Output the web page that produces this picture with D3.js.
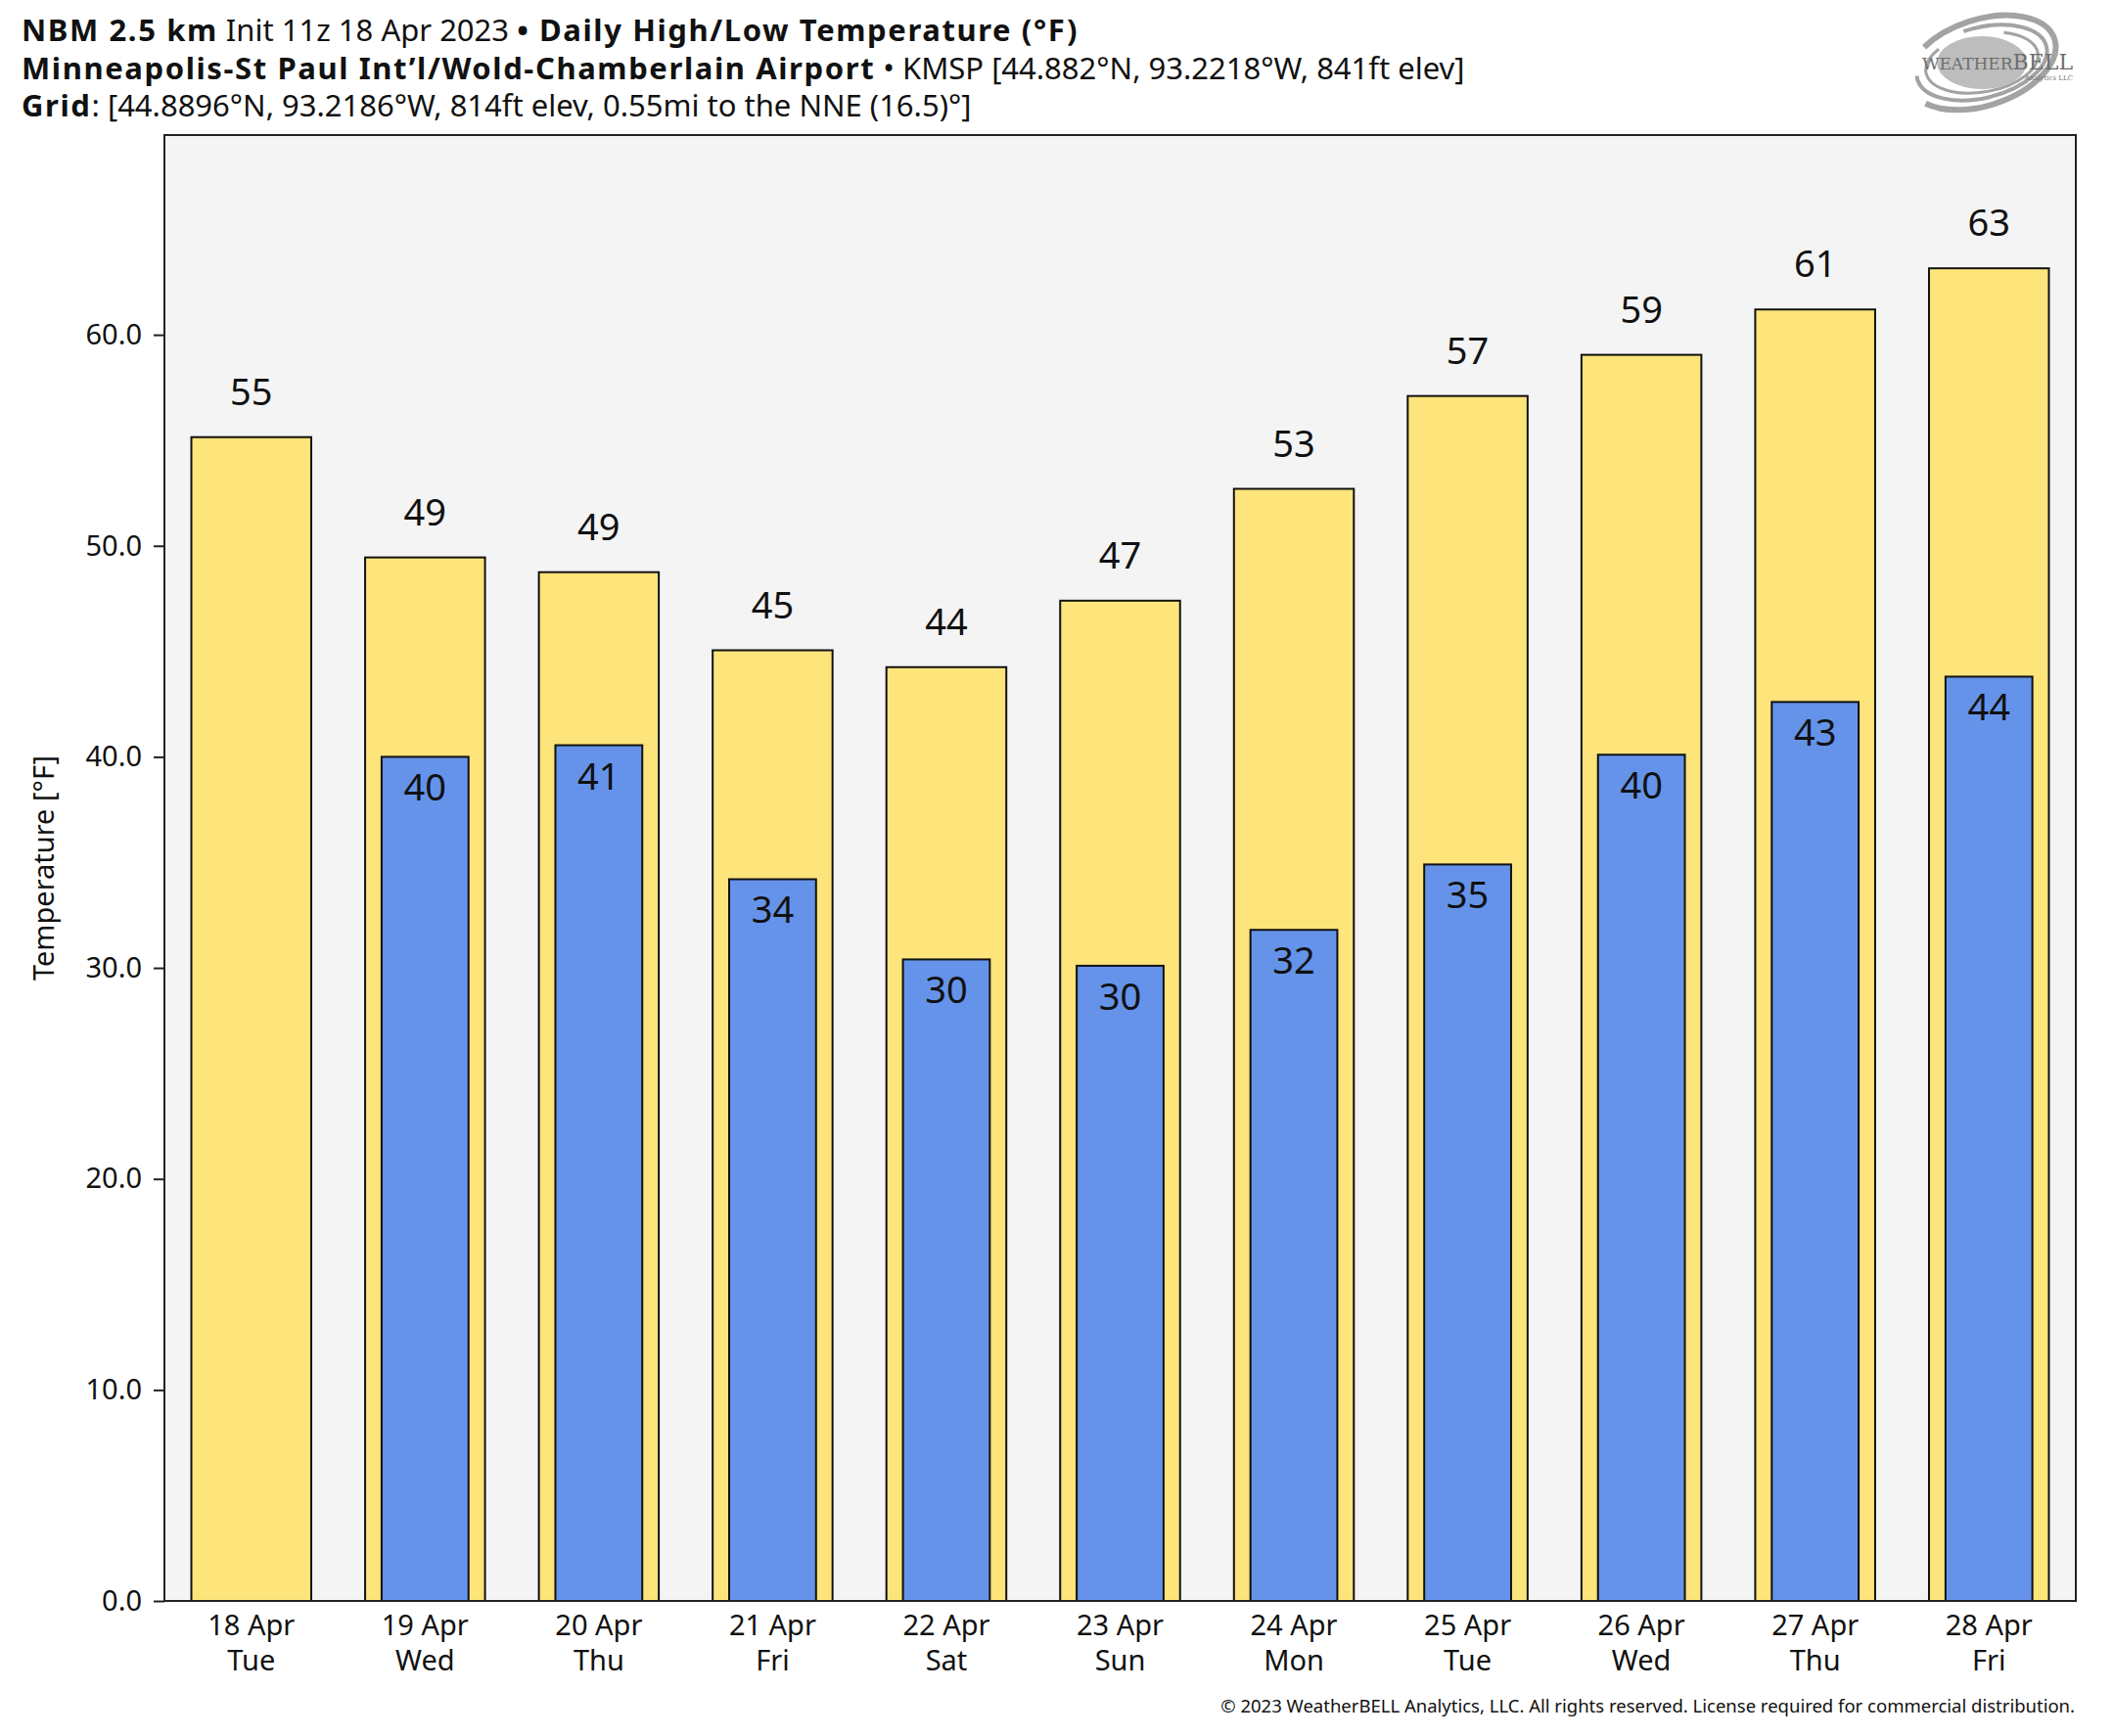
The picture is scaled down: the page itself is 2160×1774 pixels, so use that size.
<!DOCTYPE html>
<html>
<head>
  <meta charset="utf-8">
  <title>NBM Daily High/Low Temperature</title>
  <script src="https://d3js.org/d3.v7.min.js"></script>
  <style>
    body { margin: 0; background: #fff; }
    svg text { font-family: 'Noto Sans', 'DejaVu Sans', sans-serif; fill: #111; }
    .tick text { font-size: 29px; }
    .hdr-b { font-weight: bold; letter-spacing: 1.6px; }
  </style>
</head>
<body>
  <div id="chart"></div>
  <script>
    // Data
    var days     = ["18 Apr", "19 Apr", "20 Apr", "21 Apr", "22 Apr", "23 Apr", "24 Apr", "25 Apr", "26 Apr", "27 Apr", "28 Apr"];
    var weekdays = ["Tue", "Wed", "Thu", "Fri", "Sat", "Sun", "Mon", "Tue", "Wed", "Thu", "Fri"];
    var highs    = [55.15, 49.45, 48.75, 45.05, 44.25, 47.4, 52.7, 57.1, 59.05, 61.2, 63.15];
    var lows     = [null, 40.0, 40.55, 34.2, 30.4, 30.1, 31.8, 34.9, 40.1, 42.6, 43.8];
    var yTicks   = [0, 10, 20, 30, 40, 50, 60];

    var W = 2160, H = 1774;
    var plot = {left: 168, right: 2121, top: 138, bottom: 1636};

    var svg = d3.select("#chart")
      .append("svg")
        .attr("width", W)
        .attr("height", H);

    svg.append("rect").attr("width", W).attr("height", H).attr("fill", "#fff");

    // Scales
    var x = d3.scaleBand()
      .domain(days)
      .range([plot.left, plot.right]);
    var y = d3.scaleLinear()
      .domain([0, d3.max(highs) * 1.1])
      .range([plot.bottom, plot.top]);

    var step = x.step();
    var highW = step * 0.69, lowW = step * 0.5;

    // Plot background
    svg.append("rect")
      .attr("x", plot.left).attr("y", plot.top)
      .attr("width", plot.right - plot.left)
      .attr("height", plot.bottom - plot.top)
      .attr("fill", "#f4f4f4");

    var rows = days.map(function(d, i) {
      return {day: d, wd: weekdays[i], high: highs[i], low: lows[i]};
    });

    // High bars
    svg.append("g")
      .selectAll("rect")
      .data(rows)
      .enter()
      .append("rect")
        .attr("x", function(d) { return x(d.day) + (step - highW) / 2; })
        .attr("y", function(d) { return y(d.high); })
        .attr("width", highW)
        .attr("height", function(d) { return y(0) - y(d.high); })
        .attr("fill", "#fde47b")
        .attr("stroke", "#111")
        .attr("stroke-width", 2);

    // Low bars
    var lowRows = rows.filter(function(d) { return d.low != null; });
    svg.append("g")
      .selectAll("rect")
      .data(lowRows)
      .enter()
      .append("rect")
        .attr("x", function(d) { return x(d.day) + (step - lowW) / 2; })
        .attr("y", function(d) { return y(d.low); })
        .attr("width", lowW)
        .attr("height", function(d) { return y(0) - y(d.low); })
        .attr("fill", "#6593ea")
        .attr("stroke", "#111")
        .attr("stroke-width", 2);

    // Value labels
    svg.append("g")
      .selectAll("text")
      .data(rows)
      .enter()
      .append("text")
        .attr("x", function(d) { return x(d.day) + step / 2; })
        .attr("y", function(d) { return y(d.high) - 33; })
        .attr("text-anchor", "middle")
        .style("font-size", "38px")
        .text(function(d) { return Math.round(d.high); });

    svg.append("g")
      .selectAll("text")
      .data(lowRows)
      .enter()
      .append("text")
        .attr("x", function(d) { return x(d.day) + step / 2; })
        .attr("y", function(d) { return y(d.low) + 45; })
        .attr("text-anchor", "middle")
        .style("font-size", "38px")
        .text(function(d) { return Math.round(d.low); });

    // Plot frame
    svg.append("rect")
      .attr("x", plot.left).attr("y", plot.top)
      .attr("width", plot.right - plot.left)
      .attr("height", plot.bottom - plot.top)
      .attr("fill", "none")
      .attr("stroke", "#222")
      .attr("stroke-width", 2);

    // Axes
    var yAxis = svg.append("g")
      .attr("transform", "translate(" + plot.left + ",0)")
      .call(d3.axisLeft(y).tickValues(yTicks).tickFormat(d3.format(".1f")).tickSize(11).tickPadding(12));
    yAxis.select(".domain").remove();
    yAxis.selectAll(".tick line").attr("stroke", "#222").attr("stroke-width", 2);

    var xAxis = svg.append("g")
      .attr("transform", "translate(0," + plot.bottom + ")")
      .call(d3.axisBottom(x).tickSize(0).tickPadding(0).tickFormat(""));
    xAxis.select(".domain").remove();
    xAxis.selectAll(".tick text").remove();
    xAxis.selectAll(".tick").each(function(d, i) {
      var t = d3.select(this).append("text")
        .attr("text-anchor", "middle")
        .style("font-size", "29px");
      t.append("tspan").attr("x", 0).attr("y", 35).text(d);
      t.append("tspan").attr("x", 0).attr("y", 71).text(weekdays[i]);
    });

    svg.append("text")
      .attr("transform", "translate(55," + (plot.top + plot.bottom) / 2 + ") rotate(-90)")
      .attr("text-anchor", "middle")
      .style("font-size", "29px")
      .text("Temperature [°F]");

    // Titles
    var title = svg.append("g").style("font-size", "31px");
    var l1 = title.append("text").attr("x", 22).attr("y", 42);
    l1.append("tspan").attr("class", "hdr-b").text("NBM 2.5 km");
    l1.append("tspan").text(" Init 11z 18 Apr 2023 ");
    l1.append("tspan").attr("class", "hdr-b").text("• Daily High/Low Temperature (°F)");

    var l2 = title.append("text").attr("x", 22).attr("y", 81);
    l2.append("tspan").attr("class", "hdr-b").text("Minneapolis-St Paul Int’l/Wold-Chamberlain Airport");
    l2.append("tspan").text(" • KMSP [44.882°N, 93.2218°W, 841ft elev]");

    var l3 = title.append("text").attr("x", 22).attr("y", 119);
    l3.append("tspan").attr("class", "hdr-b").text("Grid");
    l3.append("tspan").text(": [44.8896°N, 93.2186°W, 814ft elev, 0.55mi to the NNE (16.5)°]");

    // Logo
    var logo = svg.append("g").attr("transform", "translate(2025,64)");
    [[78, 44, -18, 6], [68, 36, -14, 4], [58, 30, -10, 3]].forEach(function(e) {
      logo.append("ellipse")
        .attr("rx", e[0]).attr("ry", e[1])
        .attr("transform", "rotate(" + e[2] + ")")
        .attr("fill", "none")
        .attr("stroke", "#a3a3a3")
        .attr("stroke-width", e[3])
        .attr("stroke-dasharray", "170 70");
    });
    logo.append("ellipse").attr("rx", 46).attr("ry", 27).attr("fill", "#bdbdbd");
    logo.append("text")
      .attr("x", 93).attr("y", 7)
      .attr("text-anchor", "end")
      .style("font-family", "'DejaVu Serif', serif")
      .style("fill", "#6d6d6d")
      .call(function(t) {
        t.append("tspan").style("font-size", "17px").text("WEATHER");
        t.append("tspan").style("font-size", "22px").text("BELL");
      });
    logo.append("text")
      .attr("x", 93).attr("y", 18)
      .attr("text-anchor", "end")
      .style("font-family", "'DejaVu Serif', serif")
      .style("font-size", "7px")
      .style("fill", "#777")
      .text("Analytics LLC");

    // Copyright
    svg.append("text")
      .attr("x", 2120).attr("y", 1750)
      .attr("text-anchor", "end")
      .style("font-size", "18.5px")
      .text("© 2023 WeatherBELL Analytics, LLC. All rights reserved. License required for commercial distribution.");
  </script>
</body>
</html>
